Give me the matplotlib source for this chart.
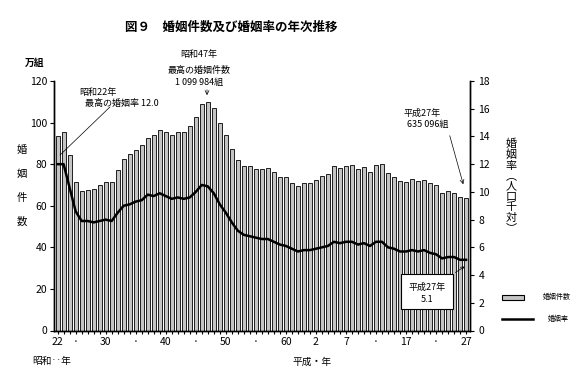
import matplotlib
matplotlib.use("Agg")
import matplotlib.pyplot as plt
from matplotlib.patches import Rectangle
from matplotlib.lines import Line2D

plt.rcParams['font.family'] = ['Noto Sans CJK JP', 'DejaVu Sans']

# data: 昭和22年(1947) - 平成27年(2015)
years = list(range(1947, 2016))
marriages = [93.4, 95.4, 84.2, 71.5, 67.2, 67.7, 68.2, 69.8, 71.5, 71.6,
             77.3, 82.7, 84.7, 86.6, 89.0, 92.8, 93.8, 96.3, 95.5, 94.0,
             95.3, 95.6, 98.4, 102.9, 109.1, 110.0, 107.2, 100.0, 94.2, 87.2,
             82.1, 79.3, 78.9, 77.5, 77.7, 78.1, 76.3, 74.0, 73.6, 71.1,
             69.6, 70.8, 70.8, 72.2, 74.2, 75.4, 79.3, 78.3, 79.2, 79.5,
             77.6, 78.5, 76.2, 79.8, 80.0, 75.7, 74.0, 72.0, 71.4, 73.1,
             72.0, 72.6, 70.8, 70.0, 66.2, 66.9, 66.1, 64.4, 63.5]
rate = [12.0, 12.0, 10.3, 8.6, 7.9, 7.9, 7.8, 7.9, 8.0, 7.9,
        8.5, 9.0, 9.1, 9.3, 9.4, 9.8, 9.7, 9.9, 9.7, 9.5,
        9.6, 9.5, 9.6, 10.0, 10.5, 10.4, 9.9, 9.1, 8.5, 7.8,
        7.2, 6.9, 6.8, 6.7, 6.6, 6.6, 6.4, 6.2, 6.1, 5.9,
        5.7, 5.8, 5.8, 5.9, 6.0, 6.1, 6.4, 6.3, 6.4, 6.4,
        6.2, 6.3, 6.1, 6.4, 6.4, 6.0, 5.9, 5.7, 5.7, 5.8,
        5.7, 5.8, 5.6, 5.5, 5.2, 5.3, 5.3, 5.1, 5.1]
tick_years = [1947, 1950, 1955, 1960, 1965, 1970, 1975, 1980, 1985,
              1990, 1995, 2000, 2005, 2010, 2015]
tick_labels = ['22', '·', '30', '·', '40', '·', '50', '·', '60',
               '2', '7', '·', '17', '·', '27']

W, H = 585, 388


def fp(x, y):
    # pixel position (from top-left) -> figure fraction
    return (x / W, 1 - y / H)


fig = plt.figure(figsize=(W / 100, H / 100), dpi=100)
ax = fig.add_axes([54 / W, 1 - 330.5 / H, (470 - 54) / W, (330.5 - 81) / H])
ax2 = ax.twinx()

ax.bar(years, marriages, width=0.65, color='#c4c4c4', edgecolor='black',
       linewidth=0.6, zorder=2)
ax2.plot(years, rate, color='black', lw=1.8, zorder=3)

ax.set_xlim(1946.4, 2015.65)
ax.set_ylim(0, 120)
ax2.set_ylim(0, 18)
ax.set_yticks(range(0, 121, 20))
ax2.set_yticks(range(0, 19, 2))

ax.set_xticks(years, minor=True)
ax.set_xticks(tick_years)
ax.set_xticklabels(tick_labels)
ax.tick_params(axis='x', which='both', length=2, width=0.8, pad=3, labelsize=7.5)
ax.tick_params(axis='y', length=3, width=0.8, pad=2, labelsize=7.5)
ax2.tick_params(axis='y', length=3, width=0.8, pad=3, labelsize=7.5)

for a in (ax, ax2):
    a.spines['top'].set_visible(False)
    for s in ('left', 'right', 'bottom'):
        a.spines[s].set_linewidth(1.0)
ax.set_zorder(ax2.get_zorder() - 1)
ax2.patch.set_visible(False)

# title and axis captions
fig.text(*fp(231, 27), '図９　婚姻件数及び婚姻率の年次推移', ha='center', va='center',
         fontsize=9, fontweight='bold')
fig.text(*fp(35, 63), '万組', ha='center', va='center', fontsize=7, fontweight='bold')
fig.text(*fp(22, 186), '婚\n\n姻\n\n件\n\n数', ha='center', va='center',
         fontsize=7.5, linespacing=1.25)
fig.text(*fp(511, 186), '婚\n姻\n率\n︵\n人\n口\n千\n対\n︶', ha='center', va='center',
         fontsize=8, linespacing=1.05)
fig.text(*fp(52, 361), '昭和‥年', ha='center', va='center', fontsize=7)
fig.text(*fp(312, 362), '平成・年', ha='center', va='center', fontsize=7)

# annotations
fig.text(*fp(79, 92), '昭和22年', ha='left', va='center', fontsize=6.5)
fig.text(*fp(85, 103), '最高の婚姻率 12.0', ha='left', va='center', fontsize=6.5)
ax.annotate('', xy=fp(58, 157), xycoords='figure fraction',
            xytext=fp(112, 105), textcoords='figure fraction',
            arrowprops=dict(arrowstyle='-', lw=0.5, color='black'))

fig.text(*fp(199, 55), '昭和47年', ha='center', va='center', fontsize=6.5)
fig.text(*fp(199, 70), '最高の婚姻件数', ha='center', va='center', fontsize=6.5)
fig.text(*fp(199, 82), '1 099 984組', ha='center', va='center', fontsize=6.5)
ax.annotate('', xy=fp(207, 98), xycoords='figure fraction',
            xytext=fp(207, 87), textcoords='figure fraction',
            arrowprops=dict(arrowstyle='->', lw=0.5, color='black', mutation_scale=7))

fig.text(*fp(422, 113), '平成27年', ha='center', va='center', fontsize=6.5)
fig.text(*fp(428, 125), '635 096組', ha='center', va='center', fontsize=6.5)
ax.annotate('', xy=fp(464, 187), xycoords='figure fraction',
            xytext=fp(449, 133), textcoords='figure fraction',
            arrowprops=dict(arrowstyle='->', lw=0.5, color='black', mutation_scale=7))

x0, y0 = fp(401, 309)
x1, y1 = fp(453, 274)
fig.add_artist(Rectangle((x0, y0), x1 - x0, y1 - y0, transform=fig.transFigure,
                         facecolor='white', edgecolor='black', lw=0.8, zorder=5))
fig.text(*fp(427, 287), '平成27年', ha='center', va='center', fontsize=6.5, zorder=6)
fig.text(*fp(427, 299), '5.1', ha='center', va='center', fontsize=6.5, zorder=6)
ax.annotate('', xy=fp(467, 265), xycoords='figure fraction',
            xytext=fp(453, 274), textcoords='figure fraction',
            arrowprops=dict(arrowstyle='->', lw=0.5, color='black', mutation_scale=6))

# legend
lx0, ly0 = fp(502, 300)
lx1, ly1 = fp(524, 295)
fig.add_artist(Rectangle((lx0, ly0), lx1 - lx0, ly1 - ly0, transform=fig.transFigure,
                         facecolor='#c4c4c4', edgecolor='black', lw=0.8))
fig.text(*fp(543, 297), '婚姻件数', ha='left', va='center', fontsize=5)
fig.add_artist(Line2D([502 / W, 533 / W], [1 - 319 / H, 1 - 319 / H],
                      transform=fig.transFigure, color='black', lw=1.8))
fig.text(*fp(548, 319), '婚姻率', ha='left', va='center', fontsize=5)

fig.savefig('out.png', dpi=100)
